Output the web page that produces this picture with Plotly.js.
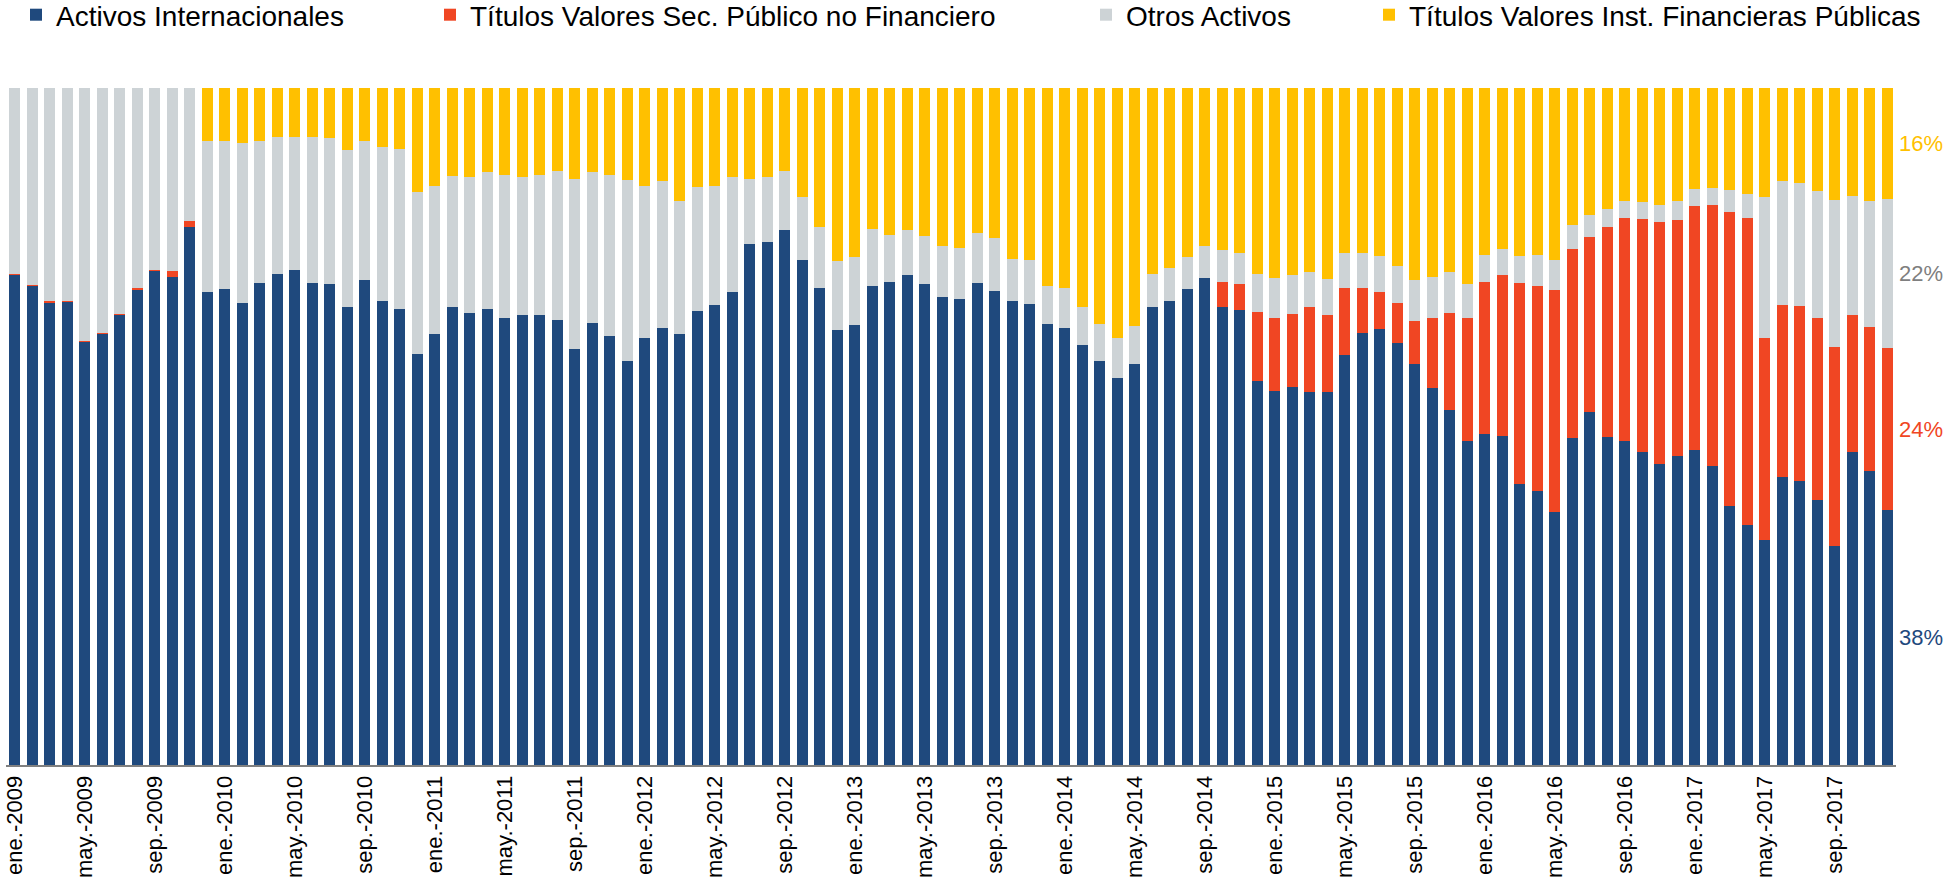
<!DOCTYPE html>
<html>
<head>
<meta charset="utf-8">
<script src="https://cdn.plot.ly/plotly-3.0.1.min.js"></script>
<style>
  html, body { margin: 0; padding: 0; background: #ffffff; }
  #chart { width: 1951px; height: 892px; }
</style>
</head>
<body>
<div id="chart"></div>
<script>
// ---- Categories ----
const MONTHS = ['ene.', 'feb.', 'mar.', 'abr.', 'may.', 'jun.', 'jul.', 'ago.', 'sep.', 'oct.', 'nov.', 'dic.'];
const YEARS = [2009, 2010, 2011, 2012, 2013, 2014, 2015, 2016, 2017];

// ---- Series names ----
const SERIES_NAMES = [
  'Activos Internacionales',
  'Títulos Valores Sec. Público no Financiero',
  'Otros Activos',
  'Títulos Valores Inst. Financieras Públicas'
];

// ---- Series values (% of total), ene.-2009 .. dic.-2017 ----
const activosInternacionales = [
  72.4, 70.7, 68.3, 68.4, 62.5, 63.6, 66.4, 70.2, 72.9, 72.1, 79.5, 69.8,
  70.3, 68.3, 71.2, 72.5, 73.1, 71.2, 71.0, 67.6, 71.6, 68.5, 67.3, 60.7,
  63.6, 67.7, 66.7, 67.3, 66.0, 66.4, 66.4, 65.8, 61.5, 65.3, 63.4, 59.7,
  63.1, 64.6, 63.6, 67.0, 67.9, 69.8, 76.9, 77.3, 79.0, 74.6, 70.4, 64.2,
  65.0, 70.7, 71.4, 72.4, 71.1, 69.1, 68.8, 71.2, 70.0, 68.5, 68.1, 65.1,
  64.6, 62.1, 59.7, 57.1, 59.3, 67.7, 68.5, 70.3, 72.0, 67.6, 67.2, 56.7,
  55.3, 55.8, 55.1, 55.1, 60.6, 63.8, 64.4, 62.3, 59.2, 55.7, 52.5, 47.8,
  48.9, 48.6, 41.5, 40.5, 37.4, 48.3, 52.1, 48.4, 47.8, 46.2, 44.4, 45.7,
  46.5, 44.2, 38.3, 35.4, 33.2, 42.5, 42.0, 39.1, 32.3, 46.3, 43.4, 37.6
];
const titulosSecPublico = [
  0.2, 0.2, 0.2, 0.2, 0.2, 0.2, 0.2, 0.2, 0.2, 0.8, 0.8, 0.0,
  0.0, 0.0, 0.0, 0.0, 0.0, 0.0, 0.0, 0.0, 0.0, 0.0, 0.0, 0.0,
  0.0, 0.0, 0.0, 0.0, 0.0, 0.0, 0.0, 0.0, 0.0, 0.0, 0.0, 0.0,
  0.0, 0.0, 0.0, 0.0, 0.0, 0.0, 0.0, 0.0, 0.0, 0.0, 0.0, 0.0,
  0.0, 0.0, 0.0, 0.0, 0.0, 0.0, 0.0, 0.0, 0.0, 0.0, 0.0, 0.0,
  0.0, 0.0, 0.0, 0.0, 0.0, 0.0, 0.0, 0.0, 0.0, 3.7, 3.8, 10.2,
  10.8, 10.8, 12.6, 11.3, 9.8, 6.6, 5.5, 5.9, 6.4, 10.4, 14.3, 18.3,
  22.5, 23.8, 29.7, 30.3, 32.7, 27.9, 25.9, 31.1, 33.0, 34.4, 35.8, 34.8,
  36.0, 38.5, 43.4, 45.4, 29.8, 25.5, 25.8, 26.9, 29.5, 20.2, 21.3, 24.0
];
const otrosActivos = [
  27.4, 29.1, 31.5, 31.4, 37.3, 36.2, 33.4, 29.6, 26.9, 27.1, 19.7, 22.3,
  21.9, 23.6, 21.0, 20.2, 19.7, 21.5, 21.6, 23.3, 20.5, 22.8, 23.7, 24.0,
  21.9, 19.3, 20.1, 20.3, 21.1, 20.4, 20.8, 22.0, 25.0, 22.3, 23.7, 26.7,
  22.4, 21.6, 19.7, 18.4, 17.6, 17.0, 9.7, 9.5, 8.7, 9.3, 9.1, 10.2,
  10.1, 8.4, 6.9, 6.6, 7.0, 7.6, 7.5, 7.4, 7.9, 6.2, 6.5, 5.6,
  5.9, 5.6, 5.5, 5.9, 5.6, 4.8, 4.9, 4.8, 4.7, 4.7, 4.7, 5.7,
  5.8, 5.8, 5.1, 5.4, 5.3, 5.3, 5.3, 5.5, 6.0, 6.0, 6.0, 4.9,
  4.0, 3.8, 4.0, 4.5, 4.5, 3.6, 3.2, 2.7, 2.5, 2.5, 2.5, 2.8,
  2.6, 2.6, 3.2, 3.5, 20.9, 18.2, 18.1, 18.8, 21.6, 17.5, 18.6, 22.0
];
const titulosInstFinancieras = [
  0.0, 0.0, 0.0, 0.0, 0.0, 0.0, 0.0, 0.0, 0.0, 0.0, 0.0, 7.9,
  7.8, 8.1, 7.8, 7.3, 7.2, 7.3, 7.4, 9.1, 7.9, 8.7, 9.0, 15.3,
  14.5, 13.0, 13.2, 12.4, 12.9, 13.2, 12.8, 12.2, 13.5, 12.4, 12.9, 13.6,
  14.5, 13.8, 16.7, 14.6, 14.5, 13.2, 13.4, 13.2, 12.3, 16.1, 20.5, 25.6,
  24.9, 20.9, 21.7, 21.0, 21.9, 23.3, 23.7, 21.4, 22.1, 25.3, 25.4, 29.3,
  29.5, 32.3, 34.8, 37.0, 35.1, 27.5, 26.6, 24.9, 23.3, 24.0, 24.3, 27.4,
  28.1, 27.6, 27.2, 28.2, 24.3, 24.3, 24.8, 26.3, 28.4, 27.9, 27.2, 29.0,
  24.6, 23.8, 24.8, 24.7, 25.4, 20.2, 18.8, 17.8, 16.7, 16.9, 17.3, 16.7,
  14.9, 14.7, 15.1, 15.7, 16.1, 13.8, 14.1, 15.2, 16.6, 16.0, 16.7, 16.4
];

// ---- Styles ----
const COLORS = ['#1F497D', '#F04623', '#CDD3D6', '#FFC000'];
const LABEL_COLORS = ['#1F497D', '#F04623', '#7F7F7F', '#FFC000'];
const FONT = 'Liberation Sans, Arial, sans-serif';

// ---- Build categories & ticks ----
const categories = [];
YEARS.forEach(y => MONTHS.forEach(m => categories.push(m + '-' + y)));
const tickvals = categories.filter((c, i) => i % 4 === 0);
const ticktext = tickvals.slice();

const seriesValues = [activosInternacionales, titulosSecPublico, otrosActivos, titulosInstFinancieras];
const legendIds = ['legend', 'legend2', 'legend3', 'legend4'];

const traces = seriesValues.map((vals, k) => ({
  type: 'bar',
  name: SERIES_NAMES[k],
  x: categories,
  y: vals,
  marker: { color: COLORS[k], line: { width: 0 } },
  legend: legendIds[k],
  hoverinfo: 'x+y+name'
}));

// ---- End labels for last bar ----
const lastIdx = categories.length - 1;
const lastCat = categories[lastIdx];
let cum = 0;
const annotations = seriesValues.map((vals, k) => {
  const v = vals[lastIdx];
  const mid = cum + v / 2;
  cum += v;
  return {
    x: lastCat, xref: 'x', y: mid, yref: 'y',
    text: Math.round(v) + '%',
    showarrow: false,
    xanchor: 'left', yanchor: 'middle',
    xshift: 10,
    font: { family: FONT, size: 22, color: LABEL_COLORS[k] }
  };
});

const legendX = [16, 430, 1086, 1369];
function legendCfg(px) {
  return {
    orientation: 'h',
    xref: 'container', yref: 'container',
    x: px / 1951, y: 1 - 15 / 892,
    xanchor: 'left', yanchor: 'middle',
    font: { family: FONT, size: 28, color: '#000000' },
    bgcolor: 'rgba(0,0,0,0)',
    borderwidth: 0
  };
}

const layout = {
  width: 1951,
  height: 892,
  margin: { l: 6, r: 55, t: 88, b: 127, pad: 0 },
  paper_bgcolor: '#ffffff',
  plot_bgcolor: '#ffffff',
  barmode: 'stack',
  bargap: 0.39,
  font: { family: FONT, color: '#000000' },
  showlegend: true,
  legend: legendCfg(legendX[0]),
  legend2: legendCfg(legendX[1]),
  legend3: legendCfg(legendX[2]),
  legend4: legendCfg(legendX[3]),
  xaxis: {
    type: 'category',
    categoryorder: 'array',
    categoryarray: categories,
    range: [-0.5, categories.length - 0.5],
    tickmode: 'array',
    tickvals: tickvals,
    ticktext: ticktext,
    tickangle: -90,
    tickfont: { family: FONT, size: 22, color: '#000000' },
    ticks: '',
    ticklen: 0,
    showgrid: false,
    zeroline: false,
    showline: true,
    linecolor: '#808080',
    linewidth: 2,
    fixedrange: true
  },
  yaxis: {
    range: [0, 100],
    visible: false,
    showgrid: false,
    zeroline: false,
    fixedrange: true
  },
  annotations: annotations
};

Plotly.newPlot('chart', traces, layout, { displayModeBar: false, staticPlot: true });
</script>
</body>
</html>
